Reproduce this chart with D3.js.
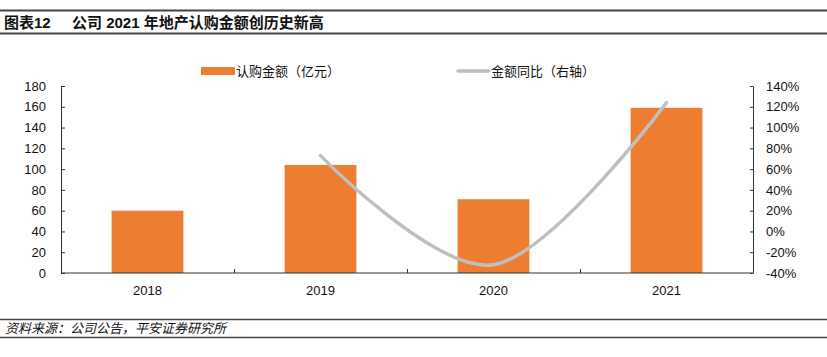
<!DOCTYPE html>
<html><head><meta charset="utf-8">
<script src="https://cdn.jsdelivr.net/npm/d3@7"></script>
<style>
body{margin:0;background:#fff;}
text{font-family:"Liberation Sans",Arial,"Noto Sans CJK SC",sans-serif;}
.cjk{font-family:"Liberation Sans","Noto Sans CJK SC",sans-serif;}
</style></head>
<body><svg id="c" width="827" height="357"></svg>
<script>
const categories = ["2018","2019","2020","2021"];
const amounts = [60, 104, 71, 159];          // 认购金额（亿元）
const yoy = [null, 73, -32, 124];            // 金额同比（%）
const leftTicks = [0,20,40,60,80,100,120,140,160,180];
const rightTicks = [-40,-20,0,20,40,60,80,100,120,140];
const titleLabel = "图表12";
const titleText = "公司 2021 年地产认购金额创历史新高";
const sourceText = "资料来源：公司公告，平安证券研究所";
const legendBar = "认购金额（亿元）";
const legendLine = "金额同比（右轴）";

const svg = d3.select("#c");
const L = 61, R = 753, T = 86, B = 273;

// header / footer rules
svg.append("line").attr("x1",0).attr("x2",827).attr("y1",10.5).attr("y2",10.5).attr("stroke","#444").attr("stroke-width",2);
svg.append("line").attr("x1",0).attr("x2",827).attr("y1",33.5).attr("y2",33.5).attr("stroke","#444").attr("stroke-width",2);
svg.append("text").attr("class","cjk").attr("x",4).attr("y",28).attr("font-size",15).attr("font-weight","bold").attr("fill","#111").text(titleLabel);
svg.append("text").attr("class","cjk").attr("x",72).attr("y",28).attr("font-size",15).attr("font-weight","bold").attr("fill","#111").text(titleText);
svg.append("line").attr("x1",0).attr("x2",827).attr("y1",319.5).attr("y2",319.5).attr("stroke","#444").attr("stroke-width",1.5);
svg.append("line").attr("x1",0).attr("x2",827).attr("y1",337.5).attr("y2",337.5).attr("stroke","#444").attr("stroke-width",1.5);
svg.append("text").attr("class","cjk").attr("x",5).attr("y",333).attr("font-size",13).attr("font-style","italic").attr("fill","#111").text(sourceText);

const x = d3.scaleBand().domain(categories).range([L,R]).paddingInner(0.585).paddingOuter(0.2925);
const yL = d3.scaleLinear().domain([0,180]).range([B,T]);
const yR = d3.scaleLinear().domain([-40,140]).range([B,T]);

// bars
svg.append("g").selectAll("rect").data(categories).join("rect")
  .attr("x",d=>x(d)).attr("width",x.bandwidth())
  .attr("y",(d,i)=>yL(amounts[i])).attr("height",(d,i)=>B-yL(amounts[i]))
  .attr("fill","#ED7D31");

// line
const pts = categories.map((c,i)=>[x(c)+x.bandwidth()/2, yoy[i]]).filter(p=>p[1]!==null);
svg.append("path").datum(pts)
  .attr("d", d3.line().x(p=>p[0]).y(p=>yR(p[1])).curve(d3.curveCardinal.tension(0)))
  .attr("fill","none").attr("stroke","#BFBFBF").attr("stroke-width",3.5).attr("stroke-linecap","round");

// axes
const axColor = "#333";
svg.append("g").attr("transform",`translate(${L},0)`)
  .call(d3.axisLeft(yL).tickValues(leftTicks).tickSizeInner(-4).tickSizeOuter(0).tickPadding(15));
svg.append("g").attr("transform",`translate(${R},0)`)
  .call(d3.axisRight(yR).tickValues(rightTicks).tickFormat(d=>d+"%").tickSizeInner(-3).tickSizeOuter(0).tickPadding(13));
const boundaries = [1,2,3];
const xb = svg.append("g").attr("transform",`translate(0,${B})`)
  .call(d3.axisBottom(d3.scaleLinear().domain([0,4]).range([L,R])).tickValues(boundaries).tickSize(-4).tickFormat(""));
svg.append("g").attr("transform",`translate(0,${B})`)
  .call(d3.axisBottom(x).tickSize(0).tickPadding(13))
  .call(g=>g.select(".domain").remove());
svg.append("line").attr("x1",L).attr("x2",R).attr("y1",B).attr("y2",B).attr("stroke",axColor).attr("stroke-width",1.2);
svg.selectAll(".domain").attr("stroke",axColor);
xb.select(".domain").remove();
svg.selectAll(".tick line").attr("stroke",axColor);
svg.selectAll(".tick text").attr("font-size",13).attr("fill","#111").attr("font-family","'Liberation Sans',Arial,sans-serif");

// legend
svg.append("rect").attr("x",201).attr("y",67).attr("width",34).attr("height",8).attr("rx",1).attr("fill","#ED7D31");
svg.append("text").attr("class","cjk").attr("x",236).attr("y",76).attr("font-size",13).attr("fill","#111").text(legendBar);
svg.append("line").attr("x1",458).attr("x2",489).attr("y1",71).attr("y2",71).attr("stroke","#BFBFBF").attr("stroke-width",3.5).attr("stroke-linecap","round");
svg.append("text").attr("class","cjk").attr("x",491).attr("y",76).attr("font-size",13).attr("fill","#111").text(legendLine);
</script></body></html>
